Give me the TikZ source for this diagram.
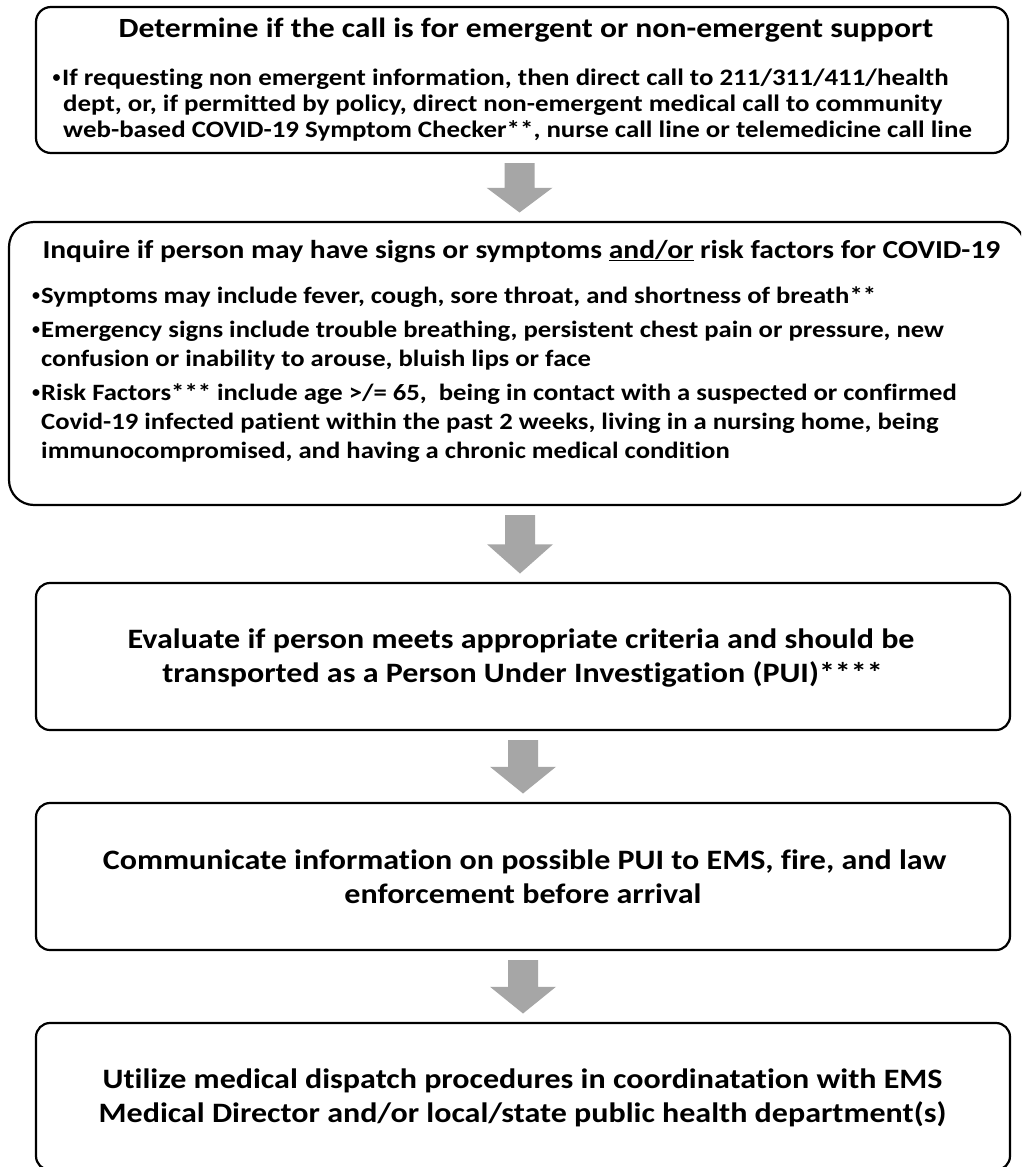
\documentclass[tikz,border=0pt]{standalone}
\usepackage{fontspec}
\setmainfont{Carlito}[Ligatures={TeX,NoCommon}]
\usetikzlibrary{calc}
\definecolor{arrowgray}{HTML}{A6A6A6}
\newcommand\StretchText[1]{\scalebox{1.14}[1]{#1}}
\tikzset{
  flowbox/.style={draw=black, line width=2.2pt, rounded corners=#1, inner sep=0pt, outer sep=0pt, fill=white},
  flowbox/.default=15pt,
  titleA/.style={anchor=base, inner sep=0pt, font=\fontsize{27.8}{33}\selectfont\bfseries},
  titleB/.style={anchor=base, inner sep=0pt, font=\fontsize{25.9}{31}\selectfont\bfseries},
  bodytext/.style={anchor=base west, inner sep=0pt, font=\fontsize{23.4}{28}\selectfont\bfseries},
  bodytextA/.style={bodytext, font=\fontsize{23.6}{28}\selectfont\bfseries},
  bulletmark/.style={anchor=base, inner sep=0pt, font=\fontsize{16}{20}\selectfont\bfseries},
  bigtext/.style={anchor=base, inner sep=0pt, font=\fontsize{28.1}{34}\selectfont\bfseries},
}
\newcommand\FlowArrowBetween[2]{%
  \fill[arrowgray] let \p1=(#1.south), \p2=(#2.north),
    \n1={(\x1+\x2)/2}, \n2={\y1-10pt}, \n3={\y2+9.5pt}, \n4={(\n2+\n3)/2} in
    (\n1-15pt,\n2) -- (\n1-15pt,\n4) -- (\n1-33pt,\n4) -- (\n1,\n3)
    -- (\n1+33pt,\n4) -- (\n1+15pt,\n4) -- (\n1+15pt,\n2) -- cycle;}
\begin{document}
\begin{tikzpicture}[x=1pt,y=-1pt]
\useasboundingbox (0,0) rectangle (1021,1167);
\clip (0,0) rectangle (1021,1167);
\fill[white] (0,0) rectangle (1021,1167);

% boxes
\node[flowbox=15pt, minimum width=972pt, minimum height=146pt] (b1) at (522,80) {};
\node[flowbox=25pt, minimum width=1016pt, minimum height=283pt] (b2) at (517,363.5) {};
\node[flowbox=14pt, minimum width=974pt, minimum height=147pt] (b3) at (523,656.5) {};
\node[flowbox=14pt, minimum width=974pt, minimum height=147pt] (b4) at (523,876.5) {};
\node[flowbox=14pt, minimum width=974pt, minimum height=147pt] (b5) at (523,1096.5) {};

% arrows
\FlowArrowBetween{b1}{b2}
\FlowArrowBetween{b2}{b3}
\FlowArrowBetween{b3}{b4}
\FlowArrowBetween{b4}{b5}

% box 1 text
\node[titleA] (t1) at (526,37) {\StretchText{Determine if the call is for emergent or non-emergent support}};
\node[bulletmark] (m11) at (56.5,82) {•};
\node[bodytextA] (t11) at (62,85) {\StretchText{If requesting non emergent information, then direct call to 211/311/411/health}};
\node[bodytextA] (t12) at (63,111) {\StretchText{dept, or, if permitted by policy, direct non-emergent medical call to community}};
\node[bodytextA] (t13) at (63,137) {\StretchText{web-based COVID-19 Symptom Checker**, nurse call line or telemedicine call line}};

% box 2 text
\node[titleB] (t2) at (521.5,258) {\StretchText{Inquire if person may have signs or symptoms \underline{and/or} risk factors for COVID-19}};
\node[bulletmark] (m21) at (36,300) {•};
\node[bodytext] (t21) at (41,303) {\StretchText{Symptoms may include fever, cough, sore throat, and shortness of breath**}};
\node[bulletmark] (m22) at (36,334) {•};
\node[bodytext] (t22) at (41,337) {\StretchText{Emergency signs include trouble breathing, persistent chest pain or pressure, new}};
\node[bodytext] (t23) at (41,366) {\StretchText{confusion or inability to arouse, bluish lips or face}};
\node[bulletmark] (m23) at (36,397) {•};
\node[bodytext] (t24) at (41,400) {\StretchText{Risk Factors*** include age >/= 65,\ \ being in contact with a suspected or confirmed}};
\node[bodytext] (t25) at (41,429) {\StretchText{Covid-19 infected patient within the past 2 weeks, living in a nursing home, being}};
\node[bodytext] (t26) at (41,458) {\StretchText{immunocompromised, and having a chronic medical condition}};

% box 3 text
\node[bigtext] (t31) at (521,648) {\StretchText{Evaluate if person meets appropriate criteria and should be}};
\node[bigtext] (t32) at (522.5,682) {\StretchText{transported as a Person Under Investigation (PUI)****}};

% box 4 text
\node[bigtext] (t41) at (524.5,869) {\StretchText{Communicate information on possible PUI to EMS, fire, and law}};
\node[bigtext] (t42) at (523,903) {\StretchText{enforcement before arrival}};

% box 5 text
\node[bigtext] (t51) at (522.5,1088) {\StretchText{Utilize medical dispatch procedures in coordinatation with EMS}};
\node[bigtext] (t52) at (522.5,1122) {\StretchText{Medical Director and/or local/state public health department(s)}};
\end{tikzpicture}
\end{document}
